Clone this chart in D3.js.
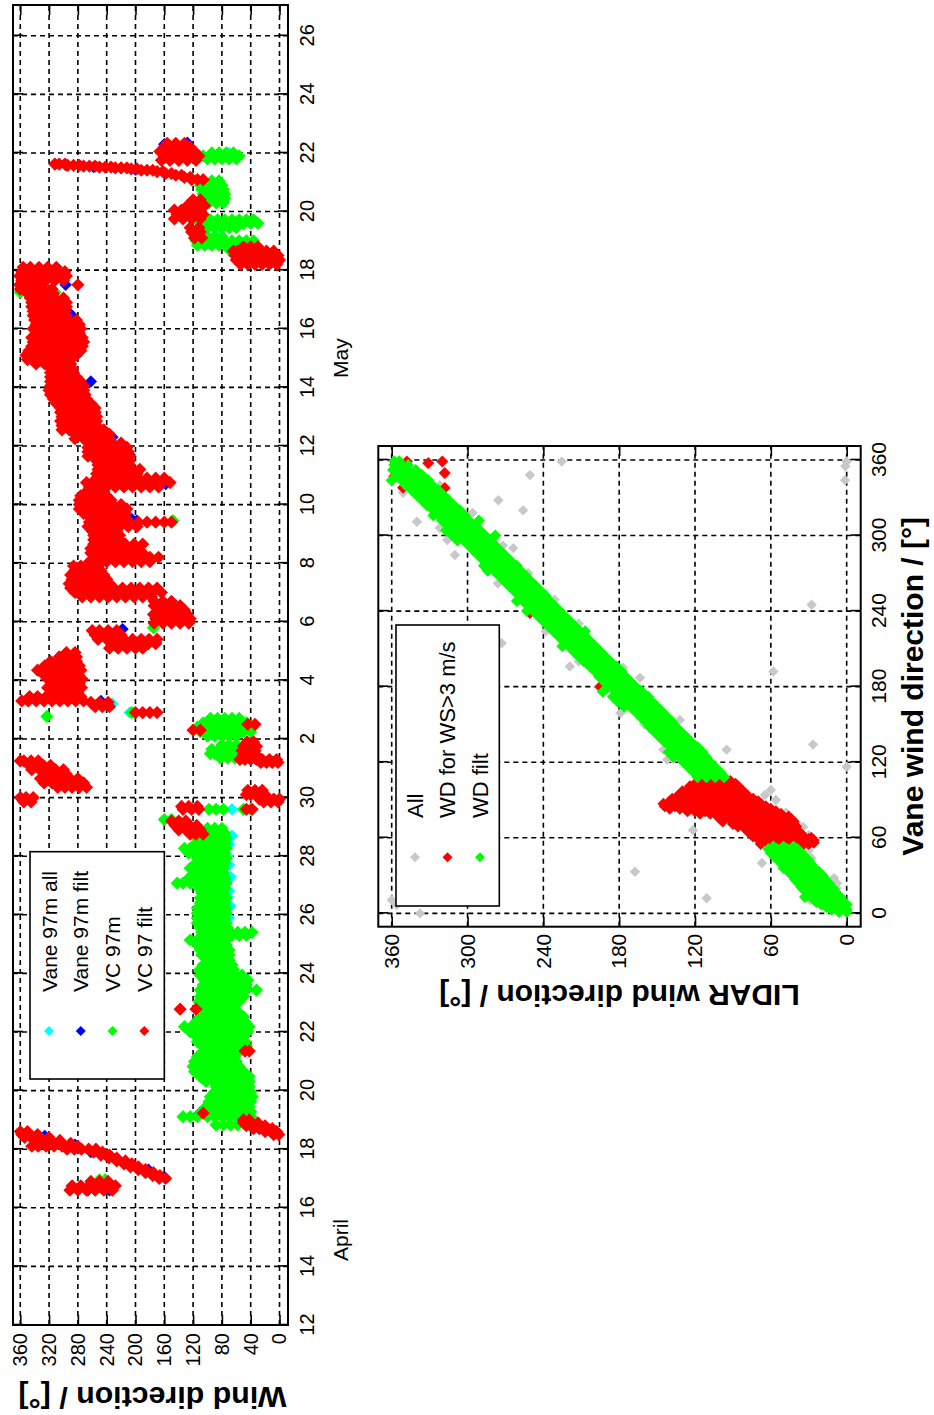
<!DOCTYPE html>
<html><head><meta charset="utf-8">
<script src="https://cdn.jsdelivr.net/npm/d3@7"></script>
<style>body{margin:0;background:#fff} text{font-family:"Liberation Sans",Arial,sans-serif;fill:#000}</style>
</head><body><svg id="c" width="934" height="1415"></svg>
<script>
// ================= DATA: chart 1 (time series, day index: April d = d, May d = 30+d) =================
const dayTicks = [12,14,16,18,20,22,24,26,28,30,32,34,36,38,40,42,44,46,48,50,52,54,56];
const dirTicks1 = [0,40,80,120,160,200,240,280,320,360];
const monthLabels = [{day:14.9, text:"April"}, {day:45.0, text:"May"}];
const seriesNames1 = ["Vane 97m all","Vane 97m filt","VC 97m","VC 97 filt"];
const seriesColors1 = ["#00ffff","#0000ff","#00ff00","#ff0000"];

// rows: [day, direction values observed at that time ...]
const vaneAll = [
 [19.2,70,76],[19.5,72,78],[19.85,66],[20.2,74],[21.0,84],[22.4,74],[23.1,80,86],[23.5,72],[24.3,72],[24.9,78],[25.5,74],[25.9,70],
 [26.3,68],[26.6,72],[26.8,70],[27.3,68],[27.7,70],[28.0,72],[28.4,70],[28.7,66],[29.6,66],[31.5,64],[32.9,208],
 [33.2,232],[47.3,358],[49.2,82],[51.85,62],[48.9,98],[52.0,70]
];
const vaneFilt = [
 [16.6,236,266],[17.05,160],[17.3,182],[17.9,262],[18.15,284],[18.45,326],[18.55,6],[18.9,46],[19.25,110],
 [31.25,28],[33.3,248],[34.4,296],[35.3,172],[35.75,218],[37.2,286],[38.15,258],[39.45,198],[39.5,205],
 [40.7,158],[41.7,208],[42.3,232],[43.7,276],[44.2,262],[46.5,290],[46.9,312],[47.5,297],[47.7,356],
 [48.3,2],[48.6,60],[51.43,200],[51.5,220],[51.52,258],[51.58,296],[51.62,312],[52.3,160],[52.35,128]
];
const vc97 = [
 [16.95,242,250],
 [18.83,58,68,78,88],[19.11,40,50,60,70,80,90,100,114,124,134],[19.28,40,50,60,70,80,90,100,108],
 [19.45,42,52,62,72,82,92,102],[19.62,40,50,60,70,80,90,98],[19.79,38,48,58,68,78,88,96],
 [19.96,40,50,60,70,80,90],[20.14,42,52,62,72,82,88],[20.31,42,52,62,72,82,92,102],
 [20.48,42,52,62,72,82,92,102,110],[20.65,50,60,70,80,90,100,110,118],[20.82,56,66,76,86,96,106,116,120],
 [20.99,60,70,80,90,100,110,118],[21.16,64,74,84,94,104,114],[21.33,56,66,76,86,96,106],
 [21.5,46,56,66,76,86,96,106],[21.67,48,58,68,78,88,98,108,114],[21.84,50,60,70,80,90,100,110,115],
 [22.01,44,54,64,74,84,94,104,114,124],[22.18,42,52,62,72,82,92,102,112,122,132],[22.35,48,58,68,78,88,98,108,116],
 [22.52,50,60,70,80,90,100,110],[22.69,58,68,78,88,98,108],[22.87,64,74,84,94,104,112],
 [23.04,56,66,76,86,96,106,112],[23.21,50,60,70,80,90,100,110],[23.43,32,46,56,66,76,86,96,106,110],
 [23.6,46,56,66,76,86,96,106],[23.77,44,54,64,74,84,94,104],[23.94,52,62,72,82,92,102,110],
 [24.12,64,74,84,94,104,111],[24.29,66,76,86,96,106],[24.46,70,80,90,100],[24.63,70,80,90,100,108],
 [24.8,70,80,90,100,110],[24.97,74,84,94,104,114],[25.14,74,84,94,104,114,124],[25.3,46,56,66,76,86,96,106],
 [25.4,38,48,58,68,78,88,98,108],[25.55,72,82,92,102,110],[25.72,74,84,94,104,114],[25.88,76,86,96,106,114],
 [26.05,74,84,94,104,114],[26.22,74,84,94,104,114],[26.4,76,86,96,106,110],[26.57,74,84,94,104,110],
 [26.74,78,88,98,108],[26.91,76,86,96,106,112],[27.08,74,84,94,104,114,124,134,142],[27.25,76,86,96,106,116,126],
 [27.42,78,88,98,108,118],[27.59,78,88,98,108,118,124],[27.76,76,86,96,106,116],[27.93,74,84,94,104,114],
 [28.1,76,86,96,106,116,126],[28.27,74,84,94,104,114,124,132],[28.44,76,86,96,106,116],[28.61,74,84,94,104,114],
 [28.78,76,86,96,104],[28.95,80,90,100],
 [29.25,150,160],[29.6,78,88,98],[29.6,40,50],
 [31.35,52,62,72,82],[31.5,50,60,70,80,90,96],[31.65,54,64,74,84,94],[31.8,60,70,80],
 [32.1,60,70,80,90,100],[32.25,40,50,60,70,80,90,100,110],[32.4,38,48,58,68,78,88,98,108,114],
 [32.55,46,56,66,76,86,96,106],[32.7,56,66,76,86,96],
 [32.77,323],[32.9,205],[33.15,256],[35.8,175],[39.45,148],
 [47.25,312,322,332,342,352,360],[47.38,330,340,350],
 [48.7,40,50,60,70],[48.85,34,44,54,64,74,84,94,104,114],[49.0,36,46,56,66,76,86,96,106,116],[49.15,80,90,100],
 [49.45,60,70,80,90,100],[49.6,30,40,50,60,70,80,90,100,110],[49.72,36,46,56,66,76,86,96],
 [50.3,78,88,98],[50.45,76,86,96,106],[50.6,76,86,96,106],[50.75,78,88,98,108],[50.9,80,90,100,110],[51.05,84,94],
 [51.8,60,70,80,90,100],[51.9,56,66,76,86,96,106,114],[52.0,64,74,84,94]
];
const vc97filt = [
 [16.6,232,244,256,268,280,291],[16.75,228,240,252,264,276,288],[16.9,238,250,262],
 [17.0,158,167],[17.1,166,176],[17.2,175,186],[17.3,186,196],[17.4,196,207],[17.5,205,216],[17.6,214,226],
 [17.7,226,237],[17.8,236,248],[17.9,246,258],[18.0,255,265,275,285,295],[18.1,280,291,302,313,324,335,344],
 [18.2,290,302,314,326,338],[18.3,305,317,329,341],[18.4,320,332,344,354],[18.5,336,348,358],[18.6,350,360],
 [18.5,1,8],[18.6,4,12,20],[18.7,10,19,28,36],[18.8,20,29,38,46],[18.9,30,40,50],[19.0,42,50],
 [19.23,106],[21.35,42,48],[22.78,116,138],
 [28.75,106,116,124],[28.9,110,120,130,140],[29.05,115,125,135,145],[29.2,130,140,150],
 [29.6,112,122,134],[29.7,114,126,136],[29.6,38,46],
 [29.85,2,12,22],[29.95,0,8,18,28],[30.1,20,30,40,46],[30.25,24,34,44],
 [29.85,345,355],[30.0,342,352,360],
 [30.35,268,278,288,298,308],[30.5,272,283,294,305,316,327],[30.65,280,291,302,313,324,332],
 [30.8,296,306,316,326],[30.95,300,311,322,333,344],[31.1,318,328,338,348],[31.25,335,345,355,360],
 [31.2,2,10,18,26],[31.3,32,40,48,55,4,14,24],[31.45,32,41,50],[31.6,34,43,52],[31.75,32,41,50],[31.9,36,45],
 [32.3,110,120],[32.5,34,44],
 [32.9,170,180,190,200],[33.1,236,246,256],[33.25,238,250,262],
 [33.3,272,283,294,305,316,327,338,349,358],[33.45,276,288,300,312,324,336,347],
 [33.6,280,292,304,316],[33.75,275,287,299,311,322],[33.9,278,290,302,314],[34.05,274,286,298,310,322],
 [34.2,280,292,304,316,328],[34.35,276,288,300,312,324,336],[34.5,278,290,302,314,326],[34.65,282,294,306,318],
 [34.8,282,294,306],[34.95,284,296],
 [35.1,190,200,212,224,236],[35.25,172,182,194,206,218,230],[35.4,170,181,192,204,216,228,240,252],
 [35.55,220,232,244,256],[35.7,226,238,250,260],
 [35.95,126,138,150,162,174],[36.1,124,136,148,160,172],[36.25,128,140,152,164,175],[36.4,132,144,156,168],
 [36.55,138,150,162,174],[36.7,150,162,174],
 [36.85,178,190,202,214,226,238,250,262,274],[37.0,164,176,188,200,212,224,236,248,260,272,284],
 [37.15,170,182,194,206,218,230,242,254,266,278,290],[37.3,236,248,260,272,284,292],[37.45,240,252,264,276,288],
 [37.6,244,256,268,280,290],[37.75,248,260,272,284],[37.9,252,264,276,286],
 [38.05,180,192,204,216,228,240,252,264],[38.2,168,180,192,204,216,228,240,252],[38.35,190,202,214,226,238,250,262],
 [38.5,196,208,220,232,244,256,262],[38.65,190,202,214,226,238,250,258],[38.8,222,234,246,258],
 [38.95,222,234,246,258],[39.1,226,238,250,260],[39.25,198,210,222,234,246,258,266],
 [39.4,150,160,172,184,196,208,220,232,244,256,264],[39.55,215,227,239,251,263],[39.7,214,226,238,250,262,272],
 [39.85,212,224,236,248,260,272,278],[40.0,220,232,244,256,268,278],[40.15,234,246,258,270,278],
 [40.3,240,252,264,276],[40.45,244,256,268],[40.6,168,180,192,204,216,228,240,252,264],
 [40.75,152,164,176,188,200,212,224,236,248,260,268],[40.9,160,172,184,196,208,220,232,244,254],
 [41.05,198,210,222,234,246,254],[41.2,194,206,218,230,242,252],[41.35,208,220,232,244,252],
 [41.5,208,220,232,244,254],[41.65,208,220,232,244,256,266],[41.8,210,222,234,246,258,266],
 [41.95,212,224,236,248,260,266],[42.1,220,232,244,256,264],[42.25,236,248,260,272,284],[42.4,236,248,260,272,284],
 [42.55,244,256,268,280,292,302],[42.7,254,266,278,290,302],[42.85,254,266,278,290,304],[43.0,254,266,278,290,302],
 [43.15,256,268,280,292,304],[43.3,256,268,280,292,304],[43.45,262,274,286,298,310],[43.6,268,280,292,304,314],
 [43.75,270,282,294,306,318],[43.9,272,284,296,308,320],[44.05,272,284,296,308,318],[44.2,276,288,300,312,318],
 [44.35,282,294,306,318],[44.5,286,298,310,318],[44.65,288,300,312,318],[44.8,290,302,314,326,338],
 [44.95,290,302,314,326,338,350],[45.1,282,294,306,318,330,342,352],[45.25,276,288,300,312,324,336,348],
 [45.4,274,286,298,310,322,334,344],[45.55,272,284,296,308,320,332,342],[45.7,274,286,298,310,322,334,344],
 [45.85,278,290,302,314,326,338],[46.0,276,288,300,312,324,336,342],[46.15,278,290,302,314,326,338],
 [46.3,282,294,306,318,330,340],[46.45,296,308,320,332,342],[46.6,298,310,322,334,342],[46.75,296,308,320,332,344],
 [46.9,296,308,320,332,344],[47.05,300,312,324,336,346],[47.2,314,326,338,350],[47.35,316,328,340,352,360],
 [47.5,330,342,354,361,280],[47.65,300,312,324,336,348,358],[47.8,296,308,320,332,344,356,361],
 [47.95,298,310,322,334,346,358],[48.1,310,322,334,346,356],
 [48.2,4,14,24,34,44,54],[48.35,0,10,20,30,40,50,60],[48.5,2,12,22,32,42,52,62],[48.65,8,18,28,38,48,58,64],[48.8,30,40,50],
 [49.1,108,118],[49.3,110,122],[49.45,112,124],
 [49.75,110,122,134,146],[49.9,106,118,130,142],[50.05,112,124,136,146],[50.2,104,116,128],[50.4,110,120],
 [51.09,106,114,122],[51.17,124,132],[51.24,136,144],[51.3,150,158],[51.36,162,170],[51.41,176,184,192],
 [51.46,198,206],[51.49,212,220,228],[51.52,234,242,250],[51.55,256,264,272],[51.58,278,286,294],[51.62,298,306,312],
 [51.75,116,128,140,152,164],[51.9,112,124,136,148,160],[52.05,118,130,142,154,166],[52.2,124,136,148,160],[52.33,132,144,156]
];

// ================= DATA: chart 2 (scatter, rows [vane, LIDAR values ...]) =================
const dirTicks2 = [0,60,120,180,240,300,360];
const seriesNames2 = ["All","WD for WS>3 m/s","WD filt"];
const seriesColors2 = ["#c8c8c8","#ff0000","#00ff00"];

const wdAll = [
 [358.7,225.5],[348,250.6],[328,275.6],[320,256],[311,340],[290,263.8],[284.6,310],[296.5,316],[334,351],[357,332],
 [276.6,264],[214.5,273],[196,219],[195,177],[187,163.5],[249,231],[358.7,0],[355,1],[344,1.3],[245,27.7],[192,58],
 [130,95],[134,26.6],[116.4,0],[66,121.6],[40,67],[12,110.8],[153.6,132],[130,145],[94,64.6],[68.6,34.5],[24,7.7],
 [10.6,29],[126,116],[159,179],[122,142],[33,167.5],[0,337.6],[10.6,360],[6.6,356],
 [318,296],[312,300],[306,322],[300,288],[292,272],[270,252],[262,276],[230,212],[224,238],[200,212],[180,196],
 [170,182],[150,160],[140,126],[98,60],[90,56],[80,48],[72,40],[62,30],[50,30],[44,28],[20,8],[16,20],[28,10],
 [346,340],[340,322],[352,340]
];
const wdWS3 = [
 [346.8,358],[338,351],[357.6,331],[358.7,320],[349.7,318],[337.8,318],[358.7,348],[352,356],[238.5,250.6],[180,195],[164,155.6],
 [53,36,44,52,60],[55,30,38,46,54,62,68],[56,26],[57,28,36,44,52,60,68],[58,26],[59,30,38,46,54,62,70],[60,28],
 [61,34,42,50,58,66,74],[63,36,44,52,60,68,76],[65,38,46,54,62,70,78],[67,40,48,56,64,72,80],
 [69,40,48,56,64,72,80,86],[71,42,50,58,66,74,82,90],[73,42,50,58,66,74,82,90,98],[75,44,52,60,68,76,84,92,100],
 [77,46,54,62,70,78,86,94,102],[79,52,60,68,76,84,92,100,108,116],[81,56,64,72,80,88,96,104,112,120,126],
 [83,60,68,76,84,92,100,108,116,124,132,140],[85,64,72,80,88,96,104,112,120,128,136,144],
 [87,68,76,84,92,100,108,116,124,132,140,145],[89,70,78,86,94,102,110,118,126,134,140],
 [91,74,82,90,98,106,114,122,130,138],[93,78,86,94,102,110,118,126,134],[95,80,88,96,104,112,120,128],
 [97,82,90,98,106,114,122,130],[99,84,92,100,108,116,124],[101,86,94,102,110,118,124],[103,88,96,104,112,120],
 [105,92,100,108,116],[107,96,104,112]
];
const wdFilt = [
 [1,0,6],[3,0,6,12],[5,2,9,16],[7,0,6,13,20],[9,3,10,17,24],[11,4,11,18,26],[13,5,12,20,28,33],[15,8,15,22,30],
 [17,9,16,24,32],[19,10,18,26,34],[21,12,20,28,36],[24,14,22,30,38],[27,17,25,33,41],[30,19,27,35,43],[33,22,30,38,46],
 [36,26,34,42,50],[39,28,36,44,51],[42,30,38,46,54],[45,33,41,49,57],[48,36,44,52,60],[51,39,47,55,62],[53,42,50,58],
 [108,97,104,111,118],[112,100,107,114,121],[116,104,111,118,125],[120,108,115,122,129],[124,111,118,125,132,137],
 [128,114,121,128,135,141],[132,118,125,132,139],[136,123,130,137,144],[140,127,134,141,148],[144,131,138,145,152],
 [148,135,142,149,156],[152,138,145,152,159],[156,142,149,156,163],[160,146,153,160,167],[164,150,157,164,171,176],
 [168,154,161,168,175,181],[172,157,164,171,178,185],[176,162,169,176,183,193],[180,167,174,181,188],[184,171,178,185,192],
 [188,175,182,189,196],[192,178,185,192,199],[196,182,189,196,203],[200,187,194,201,208],[204,191,198,205,212],
 [208,195,202,209,216],[212,199,206,213,220,225],[216,203,210,217,224],[220,207,214,221,228],[224,211,218,225,232,207],
 [228,215,222,229,236],[232,219,226,233,240],[236,223,230,237,244],[240,227,234,241,248,253],[244,231,238,245,252],
 [248,235,242,249,256,261],[252,238,245,252,259],[256,242,249,256,263],[260,246,253,260,267],[264,250,257,264,271],
 [268,254,261,268,275],[272,258,265,272,279,284],[276,261,268,275,282,287],[280,266,273,280,287],[284,270,277,284,291],
 [288,274,281,288,295],[292,278,285,292,299],[296,282,289,296,303,308],[300,286,293,300,307,312,278],[304,290,297,304,311,317],
 [308,295,302,309,316],[312,299,306,313,320,291],[316,302,309,316,323,327],[320,306,313,320,327],[324,311,318,325,332],
 [328,315,322,329,336],[332,319,326,333,340],[336,323,330,337,344],[340,328,335,342,349],[344,331,338,345,352,360],
 [348,336,343,350,356],[352,341,348,354,359],[356,347,353,358],[359,354,358]
];

// ================= DRAWING =================
const svg = d3.select('#c');
const flat = rows => rows.flatMap(r => r.slice(1).map(v => [r[0], v]));
const diamond = r => `M0,${-r}L${r},0L0,${r}L${-r},0Z`;
const FONT = '"Liberation Sans",Arial,sans-serif';
const TICK = -10;

function styleAxis(sel, size){
  sel.attr('font-family', null).attr('font-size', null);
  sel.select('.domain').remove();
  sel.selectAll('.tick line').attr('stroke','#000').attr('stroke-width',1.6);
  sel.selectAll('.tick text').style('font-size', size+'px').style('font-family', FONT).attr('fill','#000');
}

function frame(g, W, H, x, y, xt, yt, fmtX, opts){
  g.append('g').selectAll('line').data(xt).join('line')
    .attr('x1', d=>x(d)).attr('x2', d=>x(d)).attr('y1',0).attr('y2',H)
    .attr('stroke','#000').attr('stroke-width',1.6).attr('stroke-dasharray','5,4');
  g.append('g').selectAll('line').data(yt).join('line')
    .attr('y1', d=>y(d)).attr('y2', d=>y(d)).attr('x1',0).attr('x2',W)
    .attr('stroke','#000').attr('stroke-width',1.6).attr('stroke-dasharray','5,4');
  const ax = g.append('g').attr('transform',`translate(0,${H})`)
    .call(d3.axisBottom(x).tickValues(xt).tickFormat(fmtX).tickSizeInner(TICK).tickSizeOuter(0).tickPadding(opts.padB));
  styleAxis(ax, opts.fs);
  const ay = g.append('g')
    .call(d3.axisLeft(y).tickValues(yt).tickSizeInner(TICK).tickSizeOuter(0).tickPadding(opts.padL));
  styleAxis(ay, opts.fs);
  const at = g.append('g').call(d3.axisTop(x).tickValues(xt).tickFormat('').tickSizeInner(TICK).tickSizeOuter(0));
  styleAxis(at, opts.fs);
  const ar = g.append('g').attr('transform',`translate(${W},0)`)
    .call(d3.axisRight(y).tickValues(yt).tickFormat('').tickSizeInner(TICK).tickSizeOuter(0));
  styleAxis(ar, opts.fs);
}

function points(g, data, x, y, color, r, clip){
  g.append('g').attr('clip-path', `url(#${clip})`).selectAll('path').data(flat(data)).join('path')
    .attr('d', diamond(r)).attr('fill', color)
    .attr('transform', d => `translate(${x(d[0])},${y(d[1])})`);
}

// ---------- Chart 1 (drawn in landscape, rotated -90deg) ----------
const W1 = 1320, H1 = 275;
const g1 = svg.append('g').attr('transform','translate(13,1325) rotate(-90)');
const x1 = d3.scaleLinear().domain([12, 57.05]).range([0, W1]);
const y1 = d3.scaleLinear().domain([-11.8, 370.1]).range([H1, 0]);
g1.append('clipPath').attr('id','clip1').append('rect').attr('width',W1).attr('height',H1);

frame(g1, W1, H1, x1, y1, dayTicks, dirTicks1, d => d > 30 ? d - 30 : d, {padB:12, padL:8, fs:20});

points(g1, vaneAll, x1, y1, seriesColors1[0], 6.2, 'clip1');
points(g1, vaneFilt, x1, y1, seriesColors1[1], 6.2, 'clip1');
points(g1, vc97, x1, y1, seriesColors1[2], 6.6, 'clip1');
points(g1, vc97filt, x1, y1, seriesColors1[3], 6.6, 'clip1');

g1.append('rect').attr('width',W1).attr('height',H1).attr('fill','none').attr('stroke','#000').attr('stroke-width',2);

g1.selectAll('.month').data(monthLabels).join('text').attr('class','month')
  .attr('x', d => x1(d.day)).attr('y', H1 + 60).attr('text-anchor','middle')
  .style('font-size','21px').text(d => d.text);

g1.append('text').attr('transform', `translate(-62,${H1/2 + 2}) rotate(-90)`).attr('text-anchor','middle')
  .attr('textLength', 268).attr('lengthAdjust','spacingAndGlyphs')
  .style('font-size','29px').style('font-weight','bold').text('Wind direction / [°]');

// legend 1
const lg1 = g1.append('g');
lg1.append('rect').attr('x',246).attr('y',17).attr('width',227.3).attr('height',134.3)
  .attr('fill','#fff').attr('stroke','#000').attr('stroke-width',1.6);
const lgY1 = d3.scalePoint().domain(seriesNames1).range([36, 131.3]);
seriesNames1.forEach((n,i) => {
  lg1.append('path').attr('d', diamond(5)).attr('fill', seriesColors1[i])
     .attr('transform', `translate(294,${lgY1(n)})`);
  lg1.append('text').attr('x', 333).attr('y', lgY1(n)).attr('dy','0.36em')
     .style('font-size','21px').text(n);
});

// ---------- Chart 2 ----------
const W2 = 480.7, H2 = 482.4;
const g2 = svg.append('g').attr('transform','translate(378.3,926.7) rotate(-90)');
const x2 = d3.scaleLinear().domain([-10.6, 371.1]).range([0, W2]);
const y2 = d3.scaleLinear().domain([-11.1, 370.6]).range([H2, 0]);
g2.append('clipPath').attr('id','clip2').append('rect').attr('width',W2).attr('height',H2);

frame(g2, W2, H2, x2, y2, dirTicks2, dirTicks2, d => d, {padB:10, padL:7, fs:21});

points(g2, wdAll, x2, y2, seriesColors2[0], 5.2, 'clip2');
points(g2, wdWS3, x2, y2, seriesColors2[1], 6, 'clip2');
points(g2, wdFilt, x2, y2, seriesColors2[2], 6, 'clip2');

g2.append('rect').attr('width',W2).attr('height',H2).attr('fill','none').attr('stroke','#000').attr('stroke-width',2);

g2.append('text').attr('x', W2/2).attr('y', H2 + 62).attr('text-anchor','middle')
  .style('font-size','30px').style('font-weight','bold').text('Vane wind direction / [°]');
g2.append('text').attr('transform', `translate(-58,${H2/2}) rotate(-90)`).attr('text-anchor','middle')
  .style('font-size','30px').style('font-weight','bold').text('LIDAR wind direction / [°]');

const lg2 = g2.append('g');
lg2.append('rect').attr('x',20.7).attr('y',17.7).attr('width',281).attr('height',103.3)
  .attr('fill','#fff').attr('stroke','#000').attr('stroke-width',1.6);
const lgY2 = d3.scalePoint().domain(seriesNames2).range([36.7, 101.7]);
seriesNames2.forEach((n,i) => {
  lg2.append('path').attr('d', diamond(5)).attr('fill', seriesColors2[i])
     .attr('transform', `translate(69.4,${lgY2(n)})`);
  lg2.append('text').attr('x', 108.7).attr('y', lgY2(n)).attr('dy','0.36em')
     .style('font-size','22px').text(n);
});
</script></body></html>
